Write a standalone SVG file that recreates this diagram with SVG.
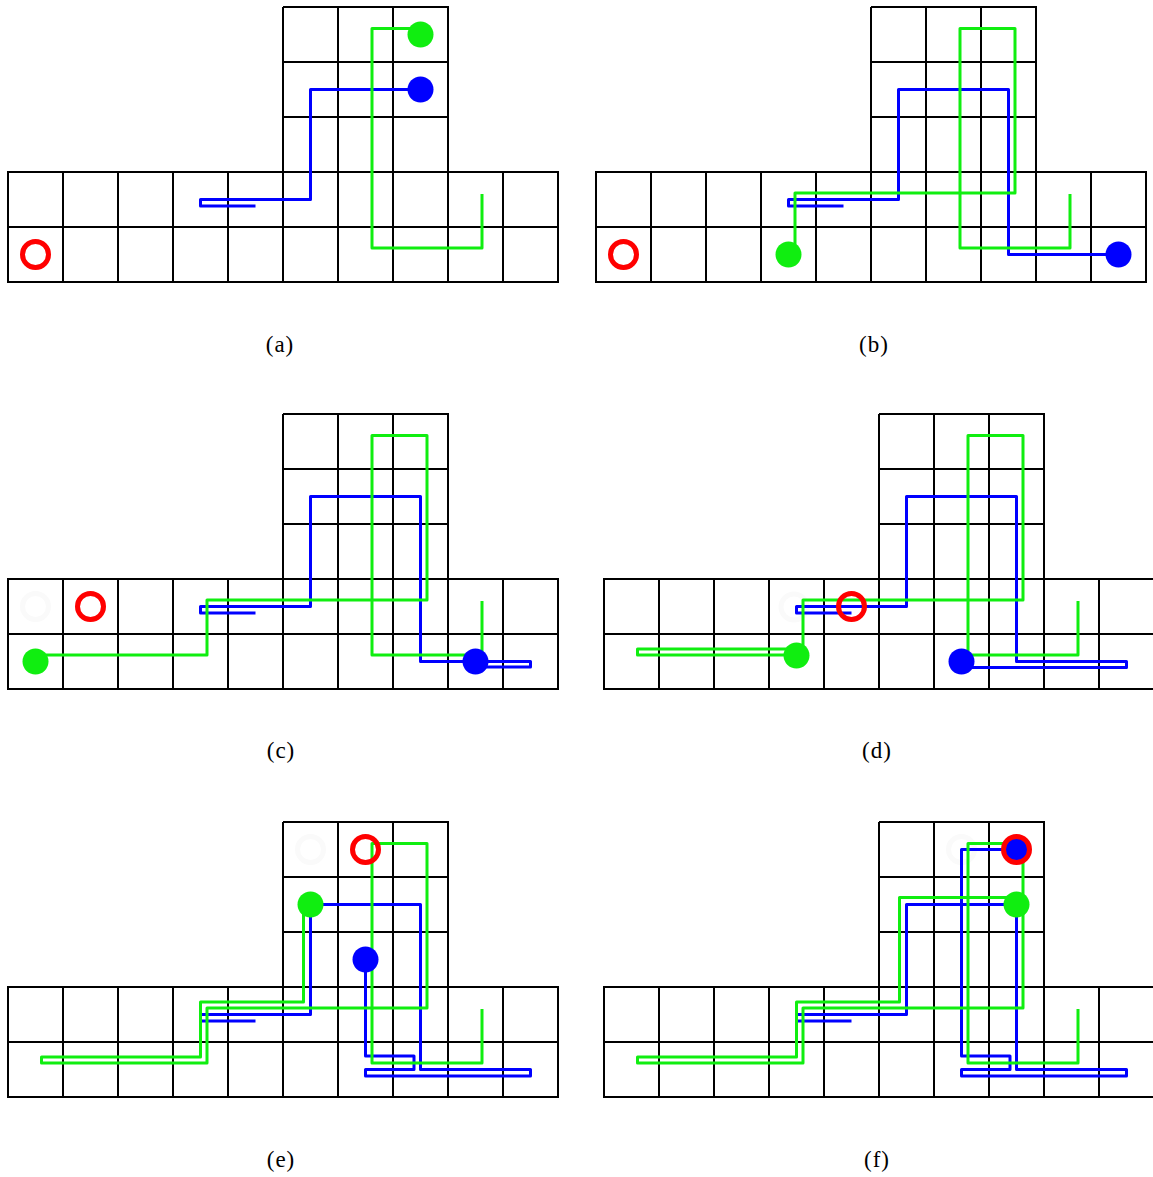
<svg xmlns="http://www.w3.org/2000/svg" xmlns:xlink="http://www.w3.org/1999/xlink" width="1153" height="1177" viewBox="0 0 1153 1177">
<style>
.grid{fill:none;stroke:#000;stroke-width:2}
.g{fill:none;stroke:#10ee10;stroke-width:3;stroke-linejoin:round}
.b{fill:none;stroke:#0000ff;stroke-width:3;stroke-linejoin:round}
.gd{fill:#10ee10}
.bd{fill:#0000ff}
.ring{fill:none;stroke:#ff0000;stroke-width:5}
.ghost{fill:none;stroke:#fafafa;stroke-width:5}
.cap{font-family:"Liberation Serif","Times New Roman",serif;font-size:23px;letter-spacing:1px;fill:#000;text-anchor:middle}
</style>
<defs>
<g id="grid">
<path class="grid" d="M275,0H440V165M275,0V165M330,0V165M385,0V165M275,55H440M275,110H440M0,165H550V275H0ZM0,220H550M55,165V275M110,165V275M165,165V275M220,165V275M275,165V275M330,165V275M385,165V275M440,165V275M495,165V275"/>
</g>
</defs>

<g id="panel-a" transform="translate(8,7)">
<use xlink:href="#grid"/>
<g id="connectors-a">
<path class="b" d="M412.5,82.5H302.5V192.5H192.5V199H247.5"/>
<path class="g" d="M412.5,21.5H364V241H474V187"/>
</g>
<circle class="gd" cx="412.5" cy="27.5" r="13"/>
<circle class="bd" cx="412.5" cy="82.5" r="13"/>
<circle class="ring" cx="27.5" cy="247.5" r="13"/>
</g>

<g id="panel-b" transform="translate(596,7)">
<use xlink:href="#grid"/>
<g id="connectors-b">
<path class="b" d="M522.5,247.5H412.5V82.5H302.5V192.5H192.5V199H247.5"/>
<path class="g" d="M199,247.5V186H419V21.5H364V241H474V187"/>
</g>
<circle class="gd" cx="192.5" cy="247.5" r="13"/>
<circle class="bd" cx="522.5" cy="247.5" r="13"/>
<circle class="ring" cx="27.5" cy="247.5" r="13"/>
</g>

<g id="panel-c" transform="translate(8,414)">
<use xlink:href="#grid"/>
<circle class="ghost" cx="27.5" cy="192.5" r="13"/>
<circle class="ring" cx="82.5" cy="192.5" r="13"/>
<g id="connectors-c">
<path class="b" d="M467.5,253H522.5V247.5H412.5V82.5H302.5V192.5H192.5V199H247.5"/>
<path class="g" d="M27.5,241H199V186H419V21.5H364V241H474V187"/>
</g>
<circle class="gd" cx="27.5" cy="247.5" r="13"/>
<circle class="bd" cx="467.5" cy="247.5" r="13"/>
</g>

<g id="panel-d" transform="translate(604,414)">
<use xlink:href="#grid"/>
<circle class="ghost" cx="190" cy="193" r="13"/>
<g id="connectors-d">
<path class="b" d="M357.5,253.5H522.5V247.5H412.5V82.5H302.5V192.5H192.5V199H247.5"/>
<path class="g" d="M192.5,235H33.5V241H199V186H419V21.5H364V241H474V187"/>
</g>
<circle class="ring" cx="247.5" cy="192.5" r="13"/>
<circle class="gd" cx="192.5" cy="241.5" r="13"/>
<circle class="bd" cx="357.5" cy="247.5" r="13"/>
</g>

<g id="panel-e" transform="translate(8,822)">
<use xlink:href="#grid"/>
<circle class="ghost" cx="302.5" cy="27.5" r="13"/>
<g id="connectors-e">
<path class="b" d="M357.5,137.5V234H406V247.5H357.5V254H522.5V247.5H412.5V82.5H302.5V192.5H192.5V199H247.5"/>
<path class="g" d="M302.5,82.5H295.5V180H192.5V235H33.5V241H199V186H419V21.5H364V241H474V187"/>
</g>
<circle class="ring" cx="357.5" cy="27.5" r="13"/>
<circle class="gd" cx="302.5" cy="82.5" r="13"/>
<circle class="bd" cx="357.5" cy="137.5" r="13"/>
</g>

<g id="panel-f" transform="translate(604,822)">
<use xlink:href="#grid"/>
<circle class="ghost" cx="357.5" cy="27.5" r="13"/>
<g id="connectors-f">
<path class="b" d="M412.5,27.5H357.5V234H406V247.5H357.5V254H522.5V247.5H412.5V82.5H302.5V192.5H192.5V199H247.5"/>
<path class="g" d="M412.5,75.5H295.5V180H192.5V235H33.5V241H199V186H419V21.5H364V241H474V187"/>
</g>
<circle class="gd" cx="412.5" cy="82.5" r="13"/>
<circle class="bd" cx="412.5" cy="27.5" r="13"/>
<circle class="ring" cx="412.5" cy="27.5" r="13"/>
</g>

<g id="captions">
<text class="cap" x="280" y="352">(a)</text>
<text class="cap" x="874" y="352">(b)</text>
<text class="cap" x="281" y="758">(c)</text>
<text class="cap" x="877" y="758">(d)</text>
<text class="cap" x="281" y="1167">(e)</text>
<text class="cap" x="877" y="1167">(f)</text>
</g>
</svg>
